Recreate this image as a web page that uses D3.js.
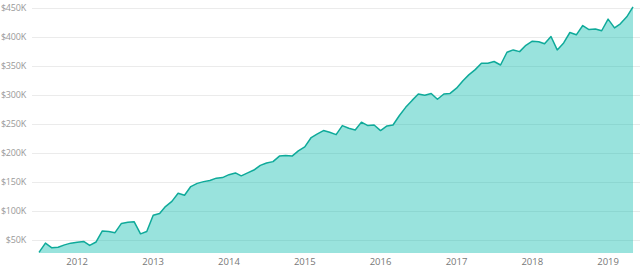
<!DOCTYPE html>
<html>
<head>
<meta charset="utf-8">
<script src="https://cdn.jsdelivr.net/npm/d3@7"></script>
<style>
  html, body { margin: 0; padding: 0; background: #fff; }
  svg { display: block; }
  .tick-label { font-family: "Open Sans", sans-serif; }
</style>
</head>
<body>
<svg id="chart" width="640" height="269"></svg>
<script>
// monthly values, Jul 2011 .. May 2019 (thousands of $)
const startMonth = new Date(2011, 6, 1);
const values = [
  29, 45, 37, 38, 42, 45, 46.5, 48, 41, 47,
  66, 65, 63, 79, 81, 82, 61, 65, 93, 96,
  108, 117, 131, 127.5, 142.5, 148, 151, 153, 157, 158,
  163, 166, 161, 166, 171, 179, 183, 185.5, 195, 196,
  195, 204, 211, 227, 233, 239, 236, 232, 247.6, 243,
  240, 253.5, 247.6, 248.6, 239, 247, 248.6, 265, 279, 291,
  302, 300, 303, 293, 302, 303, 312, 325, 335, 344,
  355, 355, 358, 352, 374, 378, 375, 386, 393, 392,
  388.5, 401, 378, 390, 408, 404, 420, 413, 414, 411,
  431, 416, 423, 435, 452
];
const yTicks = [50, 100, 150, 200, 250, 300, 350, 400, 450];
const xTicks = [2012, 2013, 2014, 2015, 2016, 2017, 2018, 2019];

const data = values.map((v, i) => ({
  date: new Date(startMonth.getFullYear(), startMonth.getMonth() + i, 1),
  value: v * 1000,
}));

const svg = d3.select('#chart');
const plotLeft = 32, plotRight = 640, plotBottom = 253;

const x = d3.scaleTime()
  .domain(d3.extent(data, (d) => d.date))
  .range([39, 633]);
const y = d3.scaleLinear()
  .domain([28000, 464000])
  .range([plotBottom, 0]);

// gridlines
svg.append('g')
  .selectAll('line')
  .data(yTicks)
  .join('line')
  .attr('x1', plotLeft)
  .attr('x2', plotRight)
  .attr('y1', (d) => Math.round(y(d * 1000)) + 0.5)
  .attr('y2', (d) => Math.round(y(d * 1000)) + 0.5)
  .attr('stroke', '#ebebeb')
  .attr('stroke-width', 1);

// y labels
svg.append('g')
  .selectAll('text')
  .data(yTicks)
  .join('text')
  .attr('class', 'tick-label')
  .attr('x', 26)
  .attr('y', (d) => y(d * 1000))
  .attr('dy', '0.35em')
  .attr('text-anchor', 'end')
  .attr('font-size', 9)
  .attr('letter-spacing', -0.2)
  .attr('fill', '#999')
  .text((d) => `$${d}K`);

// x labels
svg.append('g')
  .selectAll('text')
  .data(xTicks)
  .join('text')
  .attr('class', 'tick-label')
  .attr('x', (d) => x(new Date(d, 0, 1)))
  .attr('y', 262)
  .attr('dy', '0.35em')
  .attr('text-anchor', 'middle')
  .attr('font-size', 9.5)
  .attr('fill', '#777')
  .text((d) => d);

const area = d3.area()
  .x((d) => x(d.date))
  .y0(plotBottom)
  .y1((d) => y(d.value));
const line = d3.line()
  .x((d) => x(d.date))
  .y((d) => y(d.value));

svg.append('path')
  .datum(data)
  .attr('d', area)
  .attr('fill', '#01B8AA')
  .attr('fill-opacity', 0.4);

svg.append('path')
  .datum(data)
  .attr('d', line)
  .attr('fill', 'none')
  .attr('stroke', '#0faa9a')
  .attr('stroke-width', 1.5)
  .attr('stroke-linejoin', 'round');
</script>
</body>
</html>
